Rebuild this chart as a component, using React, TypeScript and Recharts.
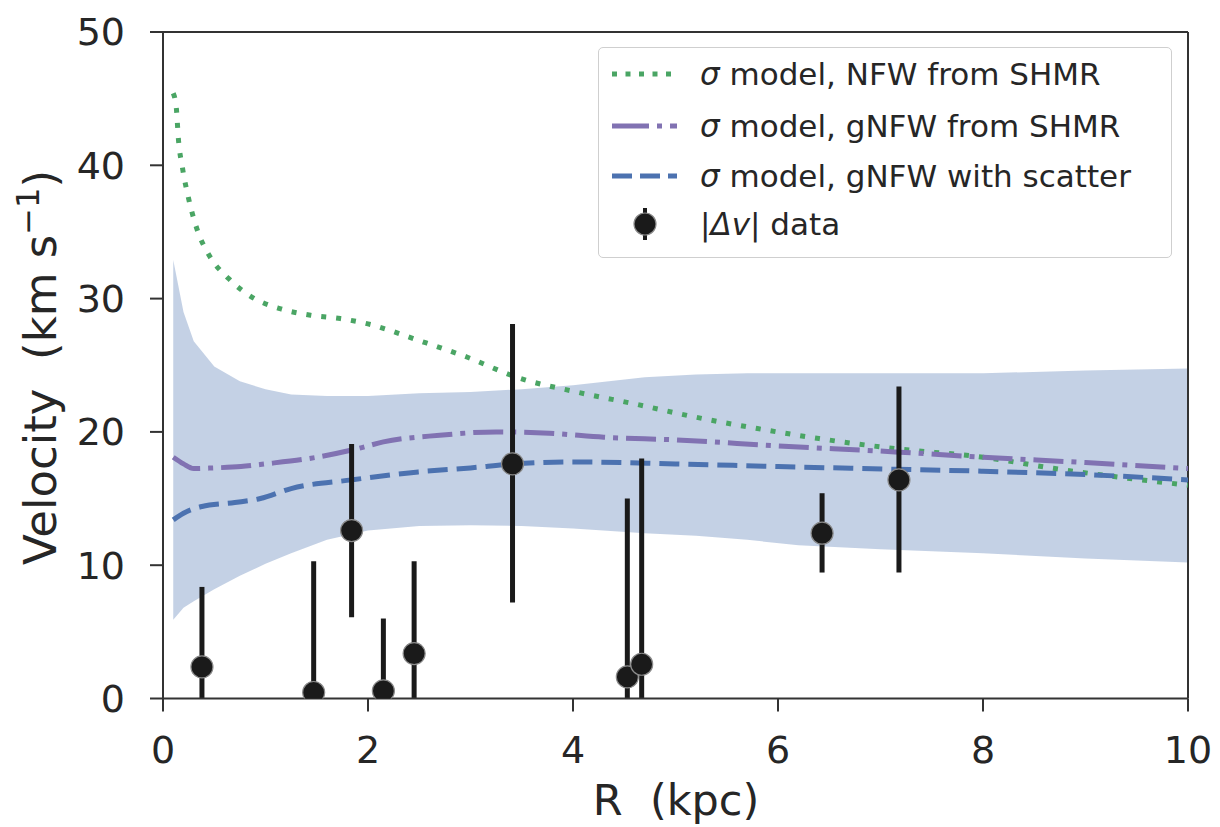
import {
    ComposedChart,
    Area,
    Line,
    Scatter,
    ErrorBar,
    XAxis,
    YAxis,
    ReferenceLine,
    Legend,
} from "recharts";

const FONT = "DejaVu Sans";
const INK = "#262626";

const R_TICKS = [0, 2, 4, 6, 8, 10];
const V_TICKS = [0, 10, 20, 30, 40, 50];

// shaded scatter band of the gNFW model
const bandR = [0.1, 0.2, 0.3, 0.5, 0.75, 1.0, 1.25, 1.6, 2.0, 2.5, 3.0, 3.5, 4.0, 4.7, 5.2, 5.7, 6.2, 7.0, 8.0, 9.0, 10];
const bandLow = [5.9, 6.8, 7.3, 8.2, 9.2, 10.1, 10.9, 11.9, 12.6, 12.95, 13.0, 12.95, 12.75, 12.4, 12.2, 11.9, 11.5, 11.2, 10.9, 10.5, 10.2];
const bandHigh = [32.9, 29.0, 26.8, 24.9, 23.8, 23.2, 22.8, 22.7, 22.7, 22.9, 23.0, 23.2, 23.5, 24.1, 24.3, 24.4, 24.4, 24.4, 24.4, 24.6, 24.75];

// sigma model, NFW from SHMR
const nfwR = [0.1, 0.13, 0.15, 0.19, 0.25, 0.33, 0.45, 0.64, 0.87, 1.14, 1.44, 1.73, 2.0, 2.48, 2.97, 3.45, 4.03, 4.6, 5.2, 5.8, 6.4, 7.14, 8.0, 8.7, 10];
const nfwV = [45.4, 44.3, 42.0, 39.8, 37.5, 35.25, 33.25, 31.5, 30.1, 29.25, 28.75, 28.5, 28.1, 26.9, 25.6, 24.1, 23.0, 22.1, 21.1, 20.25, 19.5, 18.75, 18.1, 17.25, 16.0];

// sigma model, gNFW from SHMR
const gnfwR = [0.1, 0.2, 0.3, 0.5, 0.76, 1.0, 1.5, 1.9, 2.15, 2.7, 3.25, 3.77, 4.3, 5.0, 6.0, 7.14, 8.0, 9.0, 10];
const gnfwV = [18.1, 17.6, 17.25, 17.3, 17.4, 17.6, 18.1, 18.75, 19.25, 19.75, 20.0, 19.9, 19.6, 19.4, 18.95, 18.5, 18.1, 17.7, 17.25];

// sigma model, gNFW with scatter
const scatR = [0.1, 0.2, 0.38, 0.7, 0.95, 1.25, 1.84, 2.49, 3.0, 3.42, 4.0, 5.0, 6.0, 7.14, 8.0, 9.0, 10];
const scatV = [13.4, 13.9, 14.4, 14.7, 15.0, 15.75, 16.4, 17.0, 17.3, 17.6, 17.75, 17.6, 17.4, 17.2, 17.05, 16.8, 16.4];

// |dv| data with error bar ends
const dataR = [0.38, 1.47, 1.84, 2.15, 2.45, 3.41, 4.53, 4.67, 6.43, 7.18];
const dataV = [2.37, 0.45, 12.6, 0.57, 3.37, 17.6, 1.62, 2.57, 12.4, 16.4];
const dataTop = [8.37, 10.3, 19.1, 6.0, 10.3, 28.1, 15.0, 18.0, 15.4, 23.4];
const dataBottom = [0, 0, 6.1, 0, 0, 7.2, 0, 0, 9.45, 9.45];

const LEGEND_LABELS = [
    "model, NFW from SHMR",
    "model, gNFW from SHMR",
    "model, gNFW with scatter",
];

const GREEN = "#4aa564";
const PURPLE = "#8172b2";
const BLUE = "#4c72b0";

const DOTTED = "5 10";
const DASHDOT = "30 8 5 8";
const DASHED = "20 9";

const band = bandR.map((r, i) => ({ r, range: [bandLow[i], bandHigh[i]] }));
const nfw = nfwR.map((r, i) => ({ r, v: nfwV[i] }));
const gnfw = gnfwR.map((r, i) => ({ r, v: gnfwV[i] }));
const scat = scatR.map((r, i) => ({ r, v: scatV[i] }));
const points = dataR.map((r, i) => ({
    r,
    v: dataV[i],
    err: [dataV[i] - dataBottom[i], dataTop[i] - dataV[i]],
}));

const Dot = (props: any) => (
    <circle cx={props.cx} cy={props.cy} r={11} fill="#1a1a1a" stroke="#8a8a8a" strokeWidth={1.2} />
);

const YLabel = () => (
    <text
        transform="translate(56,367.5) rotate(-90)"
        textAnchor="middle"
        fontSize={45}
        fill={INK}
        fontFamily={FONT}
        style={{ whiteSpace: "pre" }}
    >
        Velocity  (km s
        <tspan dy={-17} fontSize={32}>−1</tspan>
        <tspan dy={17}>)</tspan>
    </text>
);

const XLabel = () => (
    <text x={676} y={815} textAnchor="middle" fontSize={43} fill={INK} fontFamily={FONT} style={{ whiteSpace: "pre" }}>
        R  (kpc)
    </text>
);

function LegendBox() {
    const rows = [26, 78, 128, 176];
    const samples = [
        <line x1={0} x2={65} y1={22} y2={22} stroke={GREEN} strokeWidth={5} strokeDasharray="5 8.5" />,
        <line x1={0} x2={65} y1={22} y2={22} stroke={PURPLE} strokeWidth={5} strokeDasharray="37 8 5 8" />,
        <line x1={0} x2={65} y1={22} y2={22} stroke={BLUE} strokeWidth={5} strokeDasharray="20 8" />,
        <g>
            <line x1={33} x2={33} y1={6} y2={38} stroke="#1a1a1a" strokeWidth={4} />
            <circle cx={33} cy={22} r={11} fill="#1a1a1a" stroke="#8a8a8a" strokeWidth={1.2} />
        </g>,
    ];
    const labels = [
        ...LEGEND_LABELS.map((t) => (
            <>
                <i>σ</i> {t}
            </>
        )),
        <>
            |<i>Δv</i>| data
        </>,
    ];
    return (
        <div
            style={{
                width: 574,
                height: 211,
                boxSizing: "border-box",
                border: "1.5px solid #cfcfcf",
                borderRadius: 5,
                background: "rgba(255,255,255,0.85)",
                position: "relative",
                fontFamily: FONT,
                fontSize: 31,
                color: INK,
            }}
        >
            {rows.map((y, i) => (
                <div
                    key={i}
                    style={{
                        position: "absolute",
                        left: 13,
                        top: y - 22,
                        height: 44,
                        display: "flex",
                        alignItems: "center",
                        whiteSpace: "nowrap",
                    }}
                >
                    <svg width={65} height={44}>
                        {samples[i]}
                    </svg>
                    <span style={{ marginLeft: 23, lineHeight: "44px" }}>{labels[i]}</span>
                </div>
            ))}
        </div>
    );
}

export default function App() {
    const tickStyle = { fontSize: 38, fill: INK, fontFamily: FONT };
    const axisStroke = { stroke: "#333", strokeWidth: 2 };
    return (
        <div style={{ position: "absolute", left: 0, top: 0, background: "#fff" }}>
            <ComposedChart
                width={1220}
                height={827}
                data={band}
                margin={{ top: 32, right: 32, left: 0, bottom: 0 }}
            >
                <XAxis
                    dataKey="r"
                    type="number"
                    domain={[0, 10]}
                    ticks={R_TICKS}
                    allowDataOverflow
                    height={128.5}
                    tickSize={13}
                    tickMargin={25}
                    tick={tickStyle}
                    axisLine={axisStroke}
                    tickLine={axisStroke}
                    label={<XLabel />}
                />
                <YAxis
                    type="number"
                    domain={[0, 50]}
                    ticks={V_TICKS}
                    allowDataOverflow
                    width={163}
                    tickSize={13}
                    tickMargin={25}
                    tick={tickStyle}
                    axisLine={axisStroke}
                    tickLine={axisStroke}
                    label={<YLabel />}
                />
                <ReferenceLine y={50} stroke="#333" strokeWidth={2} />
                <ReferenceLine x={10} stroke="#333" strokeWidth={2} />

                <Area
                    dataKey="range"
                    type="linear"
                    fill={BLUE}
                    fillOpacity={0.33}
                    stroke="none"
                    isAnimationActive={false}
                    activeDot={false}
                />
                <Line
                    data={nfw}
                    dataKey="v"
                    type="monotone"
                    stroke={GREEN}
                    strokeWidth={5}
                    strokeDasharray={DOTTED}
                    dot={false}
                    activeDot={false}
                    isAnimationActive={false}
                />
                <Line
                    data={gnfw}
                    dataKey="v"
                    type="monotone"
                    stroke={PURPLE}
                    strokeWidth={5}
                    strokeDasharray={DASHDOT}
                    dot={false}
                    activeDot={false}
                    isAnimationActive={false}
                />
                <Line
                    data={scat}
                    dataKey="v"
                    type="monotone"
                    stroke={BLUE}
                    strokeWidth={5}
                    strokeDasharray={DASHED}
                    dot={false}
                    activeDot={false}
                    isAnimationActive={false}
                />
                <Scatter data={points} dataKey="v" shape={Dot} isAnimationActive={false}>
                    <ErrorBar dataKey="err" direction="y" width={0} strokeWidth={5} stroke="#1a1a1a" />
                </Scatter>

                <Legend
                    layout="vertical"
                    align="center"
                    verticalAlign="middle"
                    wrapperStyle={{ left: 598, top: 47, width: 574, height: 211 }}
                    content={<LegendBox />}
                />
            </ComposedChart>
        </div>
    );
}
